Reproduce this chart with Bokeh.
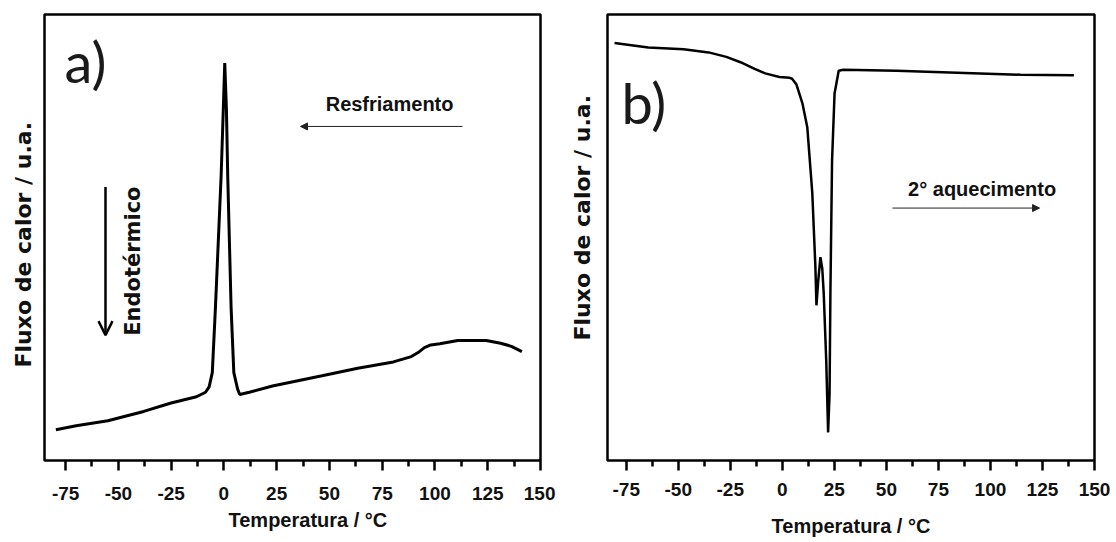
from bokeh.plotting import figure
from bokeh.layouts import row
from bokeh.models import Range1d, FixedTicker, Label, Arrow, NormalHead, OpenHead, Title
from bokeh.embed import file_html
from bokeh.resources import INLINE
import math

# ---- data (temperature in °C, heat flow as fraction of the frame height) ----
temp_a = [-79.6, -70, -55, -38, -25, -13, -8.7, -7, -5.5, -4.0, -1.3, -0.3, 0.4, 1.2, 1.8, 3.4,
          4.7, 6.5, 7.5, 12, 23, 46.5, 63.4, 80.3, 88.8, 92, 95, 98, 102.3, 110.8, 124.3, 131.1,
          136.2, 141.2]
flux_a = [0.069, 0.078, 0.089, 0.110, 0.129, 0.143, 0.153, 0.165, 0.197, 0.344, 0.64, 0.786,
          0.891, 0.786, 0.64, 0.344, 0.197, 0.16, 0.148, 0.153, 0.167, 0.190, 0.207, 0.221,
          0.233, 0.242, 0.253, 0.259, 0.262, 0.269, 0.269, 0.263, 0.256, 0.244]

temp_b = [-80.6, -64.4, -47.4, -35.4, -26.9, -20.1, -13.3, -8.2, -1.4, 3.5, 4.7, 6.8, 9.7, 12.0,
          14.4, 15.9, 16.4, 17.2, 18.3, 19.2, 19.9, 21.1, 22.0, 22.7, 23.1, 23.9, 25.1, 27.1,
          29.3, 54.9, 80.4, 114.5, 140.1]
flux_b = [0.936, 0.926, 0.922, 0.915, 0.905, 0.893, 0.878, 0.868, 0.860, 0.858, 0.856, 0.843,
          0.80, 0.747, 0.60, 0.433, 0.348, 0.40, 0.456, 0.43, 0.374, 0.224, 0.063, 0.15, 0.374,
          0.673, 0.823, 0.874, 0.876, 0.874, 0.870, 0.865, 0.864]

major_ticks = [-75, -50, -25, 0, 25, 50, 75, 100, 125, 150]
tick_labels = ["-75", "-50", "-25", "0", "25", "50", "75", "100", "125", "150"]
minor_ticks = [-62.5, -37.5, -12.5, 12.5, 37.5, 62.5, 87.5, 112.5, 137.5]

x_title = "Temperatura / °C"
y_title = "Fluxo de calor / u.a."

SANS = "Liberation Sans"
WIDE = "DejaVu Sans"
INK = "#111111"


def make_fig(width, left, right, top, bottom, xstart, label_standoff):
    p = figure(width=width, height=542, output_backend="svg", toolbar_location=None,
               x_range=Range1d(xstart, 150), y_range=Range1d(0, 1),
               min_border_left=left, min_border_right=right,
               min_border_top=top, min_border_bottom=bottom)
    p.background_fill_color = "white"
    p.border_fill_color = "white"
    p.outline_line_color = "black"
    p.outline_line_width = 2.5
    p.xgrid.visible = False
    p.ygrid.visible = False
    p.yaxis.visible = False
    ax = p.xaxis[0]
    ax.ticker = FixedTicker(ticks=major_ticks, minor_ticks=minor_ticks)
    ax.major_label_overrides = {float(t): s for t, s in zip(major_ticks, tick_labels)}
    ax.axis_line_color = None
    ax.major_tick_line_color = "black"
    ax.major_tick_line_width = 2.5
    ax.major_tick_in = 0
    ax.major_tick_out = 10
    ax.minor_tick_line_color = "black"
    ax.minor_tick_line_width = 2.5
    ax.minor_tick_in = 0
    ax.minor_tick_out = 6
    ax.major_label_text_font = SANS
    ax.major_label_text_font_style = "bold"
    ax.major_label_text_font_size = "19px"
    ax.major_label_text_color = INK
    ax.major_label_standoff = label_standoff
    ax.axis_label_text_font = SANS
    ax.axis_label_text_font_size = "20px"
    ax.axis_label_text_font_style = "bold"
    ax.axis_label_text_color = INK
    return p


def txt(p, x, y, s, font, size, style="bold", angle=0, align="center", color=INK):
    p.add_layout(Label(x=x, y=y, text=s, text_font=font, text_font_size=size,
                       text_font_style=style, angle=angle, text_align=align,
                       text_baseline="middle", text_color=color))


def y_label(p, offset, standoff):
    p.add_layout(Title(text=y_title, align="left", offset=offset, standoff=standoff,
                       text_font=WIDE, text_font_size="22px", text_font_style="bold",
                       text_color=INK), "left")


# ---------------- panel a ----------------
pa = make_fig(555, 44, 15, 10, 80, -85, 16)
pa.line(temp_a, flux_a, line_color="black", line_width=3)
txt(pa, -75.5, 0.894, "a)", "Lato", "56px", style="normal", align="left", color="#1a1a1a")
txt(pa, 78.5, 0.80, "Resfriamento", SANS, "20px")
pa.add_layout(Arrow(end=NormalHead(size=7, fill_color="#222222", line_color="#222222"),
                    x_start=113.0, y_start=0.749, x_end=36.3, y_end=0.749,
                    line_color="#222222", line_width=1))
txt(pa, -43.1, 0.447, "Endotérmico", WIDE, "21px", angle=math.pi / 2)
pa.add_layout(Arrow(end=OpenHead(size=14, line_color="black", line_width=2.5),
                    x_start=-56.1, y_start=0.613, x_end=-56.1, y_end=0.281,
                    line_color="black", line_width=2.5))
pa.add_layout(Title(text=x_title, align="left", offset=184, standoff=8,
                    text_font=SANS, text_font_size="20px", text_font_style="bold",
                    text_color=INK), "below")
y_label(pa, 93, 17)

# ---------------- panel b ----------------
pb = make_fig(561, 52, 22, 14, 82, -84, 12)
pb.line(temp_b, flux_b, line_color="black", line_width=2.5)
pb.xaxis[0].axis_label = x_title
pb.xaxis[0].axis_label_standoff = 16
txt(pb, -77.3, 0.803, "b)", "Lato", "56px", style="normal", align="left", color="#1a1a1a")
txt(pb, 96.0, 0.608, "2° aquecimento", SANS, "20px")
pb.add_layout(Arrow(end=NormalHead(size=7, fill_color="#222222", line_color="#222222"),
                    x_start=52.9, y_start=0.566, x_end=123.6, y_end=0.566,
                    line_color="#222222", line_width=1))
y_label(pb, 120, 25)

layout = row(pa, pb, spacing=0)
open("out.html", "w").write(file_html(layout, INLINE))
